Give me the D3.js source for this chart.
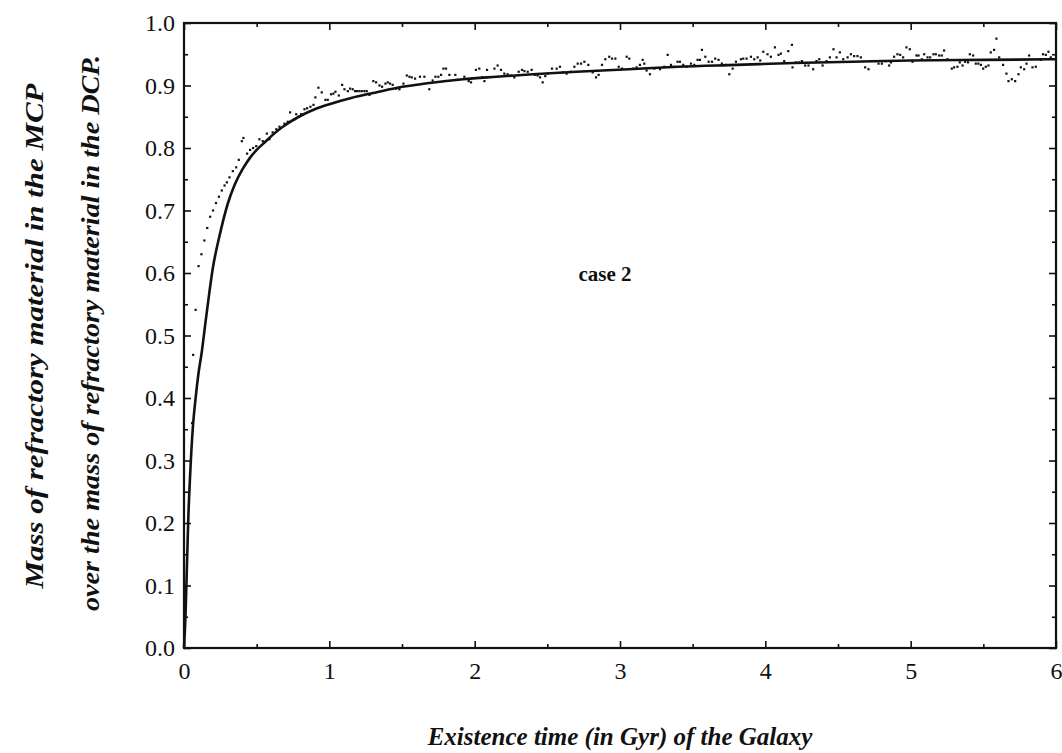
<!DOCTYPE html>
<html>
<head>
<meta charset="utf-8">
<script src="https://cdn.jsdelivr.net/npm/d3@7"></script>
<style>
  html, body { margin: 0; padding: 0; background: #fff; }
  svg { display: block; }
  text { font-family: "Liberation Serif", "Times New Roman", serif; fill: #111; }
</style>
</head>
<body>
<svg id="chart" width="1062" height="753"></svg>
<script>
// Fitted curve (time in Gyr, mass ratio)
const fitTimes  = [0, 0.01, 0.02, 0.03, 0.045, 0.06, 0.08, 0.10, 0.12, 0.15, 0.20, 0.25, 0.30, 0.35, 0.40, 0.45, 0.50, 0.56, 0.62, 0.68, 0.79, 0.90, 1.00, 1.15, 1.30, 1.46, 1.69, 1.92, 2.15, 2.40, 2.70, 3.06, 3.40, 3.80, 4.20, 4.60, 5.00, 5.50, 6.00];
const fitValues = [0, 0.05, 0.13, 0.21, 0.29, 0.35, 0.40, 0.44, 0.47, 0.525, 0.61, 0.665, 0.71, 0.742, 0.765, 0.783, 0.797, 0.810, 0.823, 0.834, 0.850, 0.862, 0.870, 0.880, 0.888, 0.896, 0.904, 0.910, 0.914, 0.918, 0.922, 0.926, 0.930, 0.933, 0.936, 0.938, 0.940, 0.941, 0.942];

// Simulated values (time in Gyr, mass ratio)
const simPoints = [
  [0.056,0.36],[0.063,0.469],[0.08,0.541],[0.10,0.611],[0.12,0.63],[0.14,0.652],[0.16,0.672],[0.18,0.69],
  [0.20,0.70],[0.22,0.712],[0.24,0.722],[0.26,0.732],[0.279,0.74],[0.295,0.745],[0.313,0.753],[0.336,0.763],
  [0.359,0.769],[0.377,0.781],[0.398,0.811],[0.409,0.816],[0.434,0.791],[0.455,0.797],[0.476,0.80],[0.497,0.803],
  [0.519,0.814],[0.542,0.811],[0.57,0.823],[0.588,0.814],[0.61,0.825],[0.635,0.83],[0.657,0.834],[0.691,0.839],
  [0.714,0.842],[0.73,0.857],[0.76,0.846],[0.772,0.854],[0.79,0.85],[0.806,0.854],[0.829,0.862],[0.847,0.8635],
  [0.87,0.866],[0.891,0.869],[0.904,0.881],[0.925,0.8965],[0.948,0.889],[0.973,0.877],[0.989,0.877],
  [1.012,0.886],[1.028,0.887],[1.042,0.890],[1.065,0.884],[1.088,0.901],[1.104,0.894],[1.127,0.891],[1.143,0.895],
  [1.161,0.894],[1.177,0.891],[1.191,0.891],[1.207,0.891],[1.223,0.891],[1.241,0.891],[1.257,0.891],[1.276,0.885],
  [1.303,0.907],[1.322,0.905],[1.345,0.900],[1.363,0.898],[1.386,0.903],[1.402,0.905],[1.418,0.903],[1.436,0.901],
  [1.459,0.895],[1.482,0.894],[1.510,0.903],[1.533,0.916],[1.551,0.914],[1.567,0.913],[1.590,0.911],[1.624,0.914],
  [1.654,0.914],[1.688,0.894],[1.711,0.908],[1.730,0.914],[1.750,0.914],[1.769,0.917],[1.785,0.927],[1.803,0.927],
  [1.826,0.917],[1.867,0.917],[1.883,0.909],[1.929,0.914],[1.959,0.907],[1.975,0.905],[2.009,0.925],[2.032,0.927],
  [2.051,0.913],[2.067,0.907],[2.085,0.925],[2.136,0.927],[2.158,0.932],[2.181,0.925],[2.204,0.919],[2.227,0.918],
  [2.250,0.916],[2.273,0.913],[2.303,0.922],[2.326,0.925],[2.342,0.923],[2.365,0.922],[2.392,0.925],[2.415,0.917],
  [2.433,0.916],[2.450,0.913],[2.468,0.905],[2.486,0.915],[2.502,0.919],[2.532,0.927],[2.564,0.927],[2.587,0.930],
  [2.606,0.921],[2.633,0.919],[2.663,0.922],[2.686,0.930],[2.709,0.935],[2.732,0.935],[2.755,0.938],[2.782,0.933],
  [2.812,0.921],[2.835,0.913],[2.853,0.917],[2.876,0.933],[2.899,0.942],[2.926,0.946],[2.945,0.943],[2.968,0.943],
  [2.991,0.930],[3.014,0.927],[3.046,0.946],[3.064,0.943],[3.091,0.927],[3.114,0.929],[3.137,0.933],[3.156,0.941],
  [3.167,0.935],[3.183,0.924],[3.206,0.918],[3.236,0.927],[3.275,0.926],[3.305,0.930],[3.328,0.949],[3.351,0.933],
  [3.373,0.930],[3.396,0.938],[3.412,0.938],[3.435,0.933],[3.458,0.930],[3.488,0.935],[3.511,0.933],[3.534,0.941],
  [3.550,0.941],[3.564,0.957],[3.587,0.946],[3.610,0.938],[3.633,0.938],[3.655,0.943],[3.678,0.941],[3.701,0.935],
  [3.729,0.933],[3.752,0.918],[3.775,0.927],[3.798,0.938],
  [3.832,0.942],[3.848,0.943],[3.871,0.943],[3.901,0.946],[3.924,0.942],[3.947,0.945],[3.965,0.940],[3.986,0.954],
  [4.015,0.950],[4.038,0.946],[4.066,0.961],[4.091,0.949],[4.107,0.951],[4.130,0.939],[4.158,0.955],[4.183,0.965],
  [4.187,0.929],[4.210,0.937],[4.233,0.937],[4.252,0.939],[4.274,0.932],[4.297,0.932],[4.329,0.926],[4.352,0.939],
  [4.371,0.942],[4.394,0.932],[4.421,0.939],[4.444,0.945],[4.469,0.958],[4.490,0.945],[4.513,0.953],[4.536,0.942],
  [4.566,0.945],[4.589,0.950],[4.611,0.947],[4.634,0.947],[4.657,0.945],[4.687,0.929],[4.710,0.926],[4.733,0.939],
  [4.756,0.939],[4.779,0.935],[4.802,0.935],[4.829,0.939],[4.852,0.932],
  [4.864,0.937],[4.886,0.946],[4.909,0.950],[4.928,0.949],[4.948,0.945],[4.971,0.961],[4.994,0.958],[5.013,0.938],
  [5.040,0.948],[5.054,0.948],[5.077,0.942],[5.093,0.950],[5.116,0.945],[5.134,0.945],[5.157,0.950],[5.173,0.950],
  [5.196,0.948],[5.214,0.948],[5.230,0.956],[5.253,0.942],[5.283,0.927],[5.299,0.929],[5.322,0.930],[5.338,0.937],
  [5.357,0.932],[5.375,0.938],[5.395,0.937],[5.407,0.950],[5.430,0.948],[5.448,0.935],[5.466,0.935],[5.483,0.933],
  [5.499,0.927],[5.517,0.930],[5.535,0.932],[5.551,0.953],[5.574,0.957],[5.590,0.975],[5.609,0.945],[5.636,0.933],
  [5.659,0.919],[5.673,0.907],[5.696,0.910],[5.719,0.907],[5.742,0.918],[5.758,0.929],[5.781,0.926],[5.797,0.935],
  [5.815,0.948],[5.838,0.929],[5.861,0.930],[5.895,0.941],[5.911,0.950],[5.930,0.949],[5.948,0.954],[5.964,0.945]
];

// Axis ticks
const xMajorTicks = [0, 1, 2, 3, 4, 5, 6];
const xMinorTicks = [0.5, 1.5, 2.5, 3.5, 4.5, 5.5];
const yMajorTicks = [0, 0.1, 0.2, 0.3, 0.4, 0.5, 0.6, 0.7, 0.8, 0.9, 1.0];
const yMinorTicks = [0.05, 0.15, 0.25, 0.35, 0.45, 0.55, 0.65, 0.75, 0.85, 0.95];

const annotation = "case 2";
const xTitle = "Existence time (in Gyr) of the Galaxy";
const yTitle1 = "Mass of refractory material in the MCP";
const yTitle2 = "over the mass of refractory material in the DCP.";

const svg = d3.select("#chart");
const plotLeft = 184, plotRight = 1056, plotTop = 23, plotBottom = 648;

const x = d3.scaleLinear().domain([0, 6]).range([plotLeft, plotRight]);
const y = d3.scaleLinear().domain([0, 1]).range([plotBottom, plotTop]);

svg.append("rect").attr("width", 1062).attr("height", 753).attr("fill", "#fff");

function styleAxis(g) {
  g.select(".domain").remove();
  g.selectAll(".tick line").attr("stroke", "#111").attr("stroke-width", 1.6);
  g.selectAll(".tick text").attr("font-size", 24).attr("fill", "#111")
    .attr("font-family", "Liberation Serif, serif");
}

// Bottom axis with labels
svg.append("g").attr("transform", `translate(0,${plotBottom})`)
  .call(d3.axisBottom(x).tickValues(xMajorTicks).tickSize(-7).tickPadding(14).tickFormat(d3.format("d")))
  .call(styleAxis);
svg.append("g").attr("transform", `translate(0,${plotBottom})`)
  .call(d3.axisBottom(x).tickValues(xMinorTicks).tickSize(-4).tickFormat(""))
  .call(styleAxis);
// Top axis
svg.append("g").attr("transform", `translate(0,${plotTop})`)
  .call(d3.axisTop(x).tickValues(xMajorTicks).tickSize(-7).tickFormat(""))
  .call(styleAxis);
svg.append("g").attr("transform", `translate(0,${plotTop})`)
  .call(d3.axisTop(x).tickValues(xMinorTicks).tickSize(-4).tickFormat(""))
  .call(styleAxis);
// Left axis with labels
svg.append("g").attr("transform", `translate(${plotLeft},0)`)
  .call(d3.axisLeft(y).tickValues(yMajorTicks).tickSize(-7).tickPadding(9).tickFormat(d3.format(".1f")))
  .call(styleAxis);
svg.append("g").attr("transform", `translate(${plotLeft},0)`)
  .call(d3.axisLeft(y).tickValues(yMinorTicks).tickSize(-4).tickFormat(""))
  .call(styleAxis);
// Right axis
svg.append("g").attr("transform", `translate(${plotRight},0)`)
  .call(d3.axisRight(y).tickValues(yMajorTicks).tickSize(-7).tickFormat(""))
  .call(styleAxis);
svg.append("g").attr("transform", `translate(${plotRight},0)`)
  .call(d3.axisRight(y).tickValues(yMinorTicks).tickSize(-4).tickFormat(""))
  .call(styleAxis);

// Frame
svg.append("rect")
  .attr("x", plotLeft).attr("y", plotTop)
  .attr("width", plotRight - plotLeft).attr("height", plotBottom - plotTop)
  .attr("fill", "none").attr("stroke", "#111").attr("stroke-width", 2.2);

// Simulated points
svg.append("g").selectAll("rect").data(simPoints).join("rect")
  .attr("x", d => x(d[0]) - 1.1).attr("y", d => y(d[1]) - 1.1)
  .attr("width", 2.2).attr("height", 2.2).attr("fill", "#111");

// Fitted curve
const fitData = fitTimes.map((t, i) => [t, fitValues[i]]);
svg.append("path").datum(fitData)
  .attr("fill", "none").attr("stroke", "#111").attr("stroke-width", 2.6)
  .attr("stroke-linejoin", "round")
  .attr("d", d3.line().x(d => x(d[0])).y(d => y(d[1])).curve(d3.curveMonotoneX));

// Annotation
svg.append("text").attr("x", 605).attr("y", 281).attr("text-anchor", "middle")
  .attr("font-size", 21).attr("font-weight", "bold").text(annotation);

// Axis titles
svg.append("text").attr("x", 620).attr("y", 745).attr("text-anchor", "middle")
  .attr("font-size", 25).attr("font-weight", "bold").attr("font-style", "italic").text(xTitle);

svg.append("text").attr("transform", "translate(43,336) rotate(-90)").attr("text-anchor", "middle")
  .attr("font-size", 25).attr("font-weight", "bold").attr("font-style", "italic")
  .attr("textLength", 505).attr("lengthAdjust", "spacingAndGlyphs").text(yTitle1);
svg.append("text").attr("transform", "translate(99,333) rotate(-90)").attr("text-anchor", "middle")
  .attr("font-size", 25).attr("font-weight", "bold").attr("font-style", "italic")
  .attr("textLength", 556).attr("lengthAdjust", "spacingAndGlyphs").text(yTitle2);
</script>
</body>
</html>
